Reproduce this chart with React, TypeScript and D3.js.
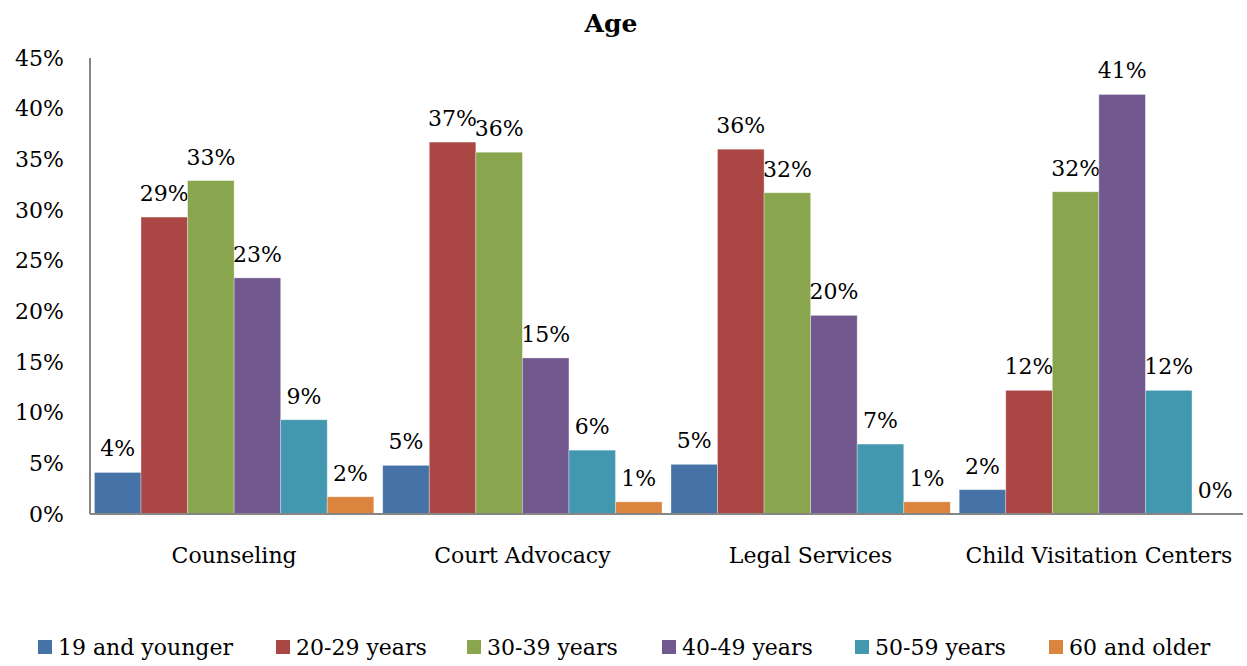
import React from 'react'
import * as d3 from 'd3'

const categories = ['Counseling', 'Court Advocacy', 'Legal Services', 'Child Visitation Centers']
const seriesNames = ['19 and younger', '20-29 years', '30-39 years', '40-49 years', '50-59 years', '60 and older']
const colors = ['#4572A7', '#AA4643', '#89A54E', '#71588F', '#4198AF', '#DB843D']

// one array per age group, in category order (percent)
const age19 = [4.1, 4.8, 4.9, 2.4]
const age20 = [29.3, 36.7, 36.0, 12.2]
const age30 = [32.9, 35.7, 31.7, 31.8]
const age40 = [23.3, 15.4, 19.6, 41.4]
const age50 = [9.3, 6.3, 6.9, 12.2]
const age60 = [1.7, 1.2, 1.2, 0]
const series = [age19, age20, age30, age40, age50, age60]

const yTicks = [0, 5, 10, 15, 20, 25, 30, 35, 40, 45]

const W = 1247
const H = 666
const margin = { left: 90, right: 4, top: 58, bottom: 152 }
const font = 'DejaVu Serif, serif'

export default function App() {
  const x0 = d3.scaleBand<string>()
    .domain(categories)
    .range([margin.left, W - margin.right])
  const bw = x0.bandwidth()
  const x1 = d3.scaleBand<string>()
    .domain(seriesNames)
    .range([bw * 0.0155, bw * 0.9845])
  const y = d3.scaleLinear()
    .domain([0, 45])
    .range([H - margin.bottom, margin.top])

  const legendX = [38, 276, 467, 662, 855, 1049]

  return (
    <svg width={W} height={H} style={{ position: 'absolute', left: 0, top: 0 }} fontFamily={font}>
      <rect width={W} height={H} fill="#fff" />
      <text x={611} y={32} textAnchor="middle" fontSize={25} fontWeight="bold">Age</text>

      {/* y axis labels */}
      {yTicks.map(t => (
        <text key={t} x={64} y={y(t)} dy="0.35em" textAnchor="end" fontSize={22}>{t}%</text>
      ))}

      {/* bars */}
      {categories.map((c, ci) => (
        <g key={c} transform={`translate(${x0(c)},0)`}>
          {series.map((vals, si) => (
            <g key={si}>
              <rect
                x={x1(seriesNames[si])}
                y={y(vals[ci])}
                width={x1.bandwidth()}
                height={y(0) - y(vals[ci])}
                fill={colors[si]}
                stroke="#fff"
                strokeOpacity={0.4}
                strokeWidth={0.8}
              />
              <text
                x={(x1(seriesNames[si]) as number) + x1.bandwidth() / 2}
                y={y(vals[ci]) - 16}
                textAnchor="middle"
                fontSize={22}
              >{d3.format('.0f')(vals[ci])}%</text>
            </g>
          ))}
          <text x={bw / 2} y={563} textAnchor="middle" fontSize={22}>{c}</text>
        </g>
      ))}

      {/* axes */}
      <line x1={margin.left} x2={margin.left} y1={margin.top} y2={y(0)} stroke="#868686" strokeWidth={2} />
      <line x1={margin.left} x2={W - margin.right} y1={y(0)} y2={y(0)} stroke="#868686" strokeWidth={2} />

      {/* legend */}
      {seriesNames.map((s, i) => (
        <g key={s} transform={`translate(${legendX[i]},640)`}>
          <rect width={14} height={14} fill={colors[i]} />
          <text x={20} y={15} fontSize={22}>{s}</text>
        </g>
      ))}
    </svg>
  )
}
